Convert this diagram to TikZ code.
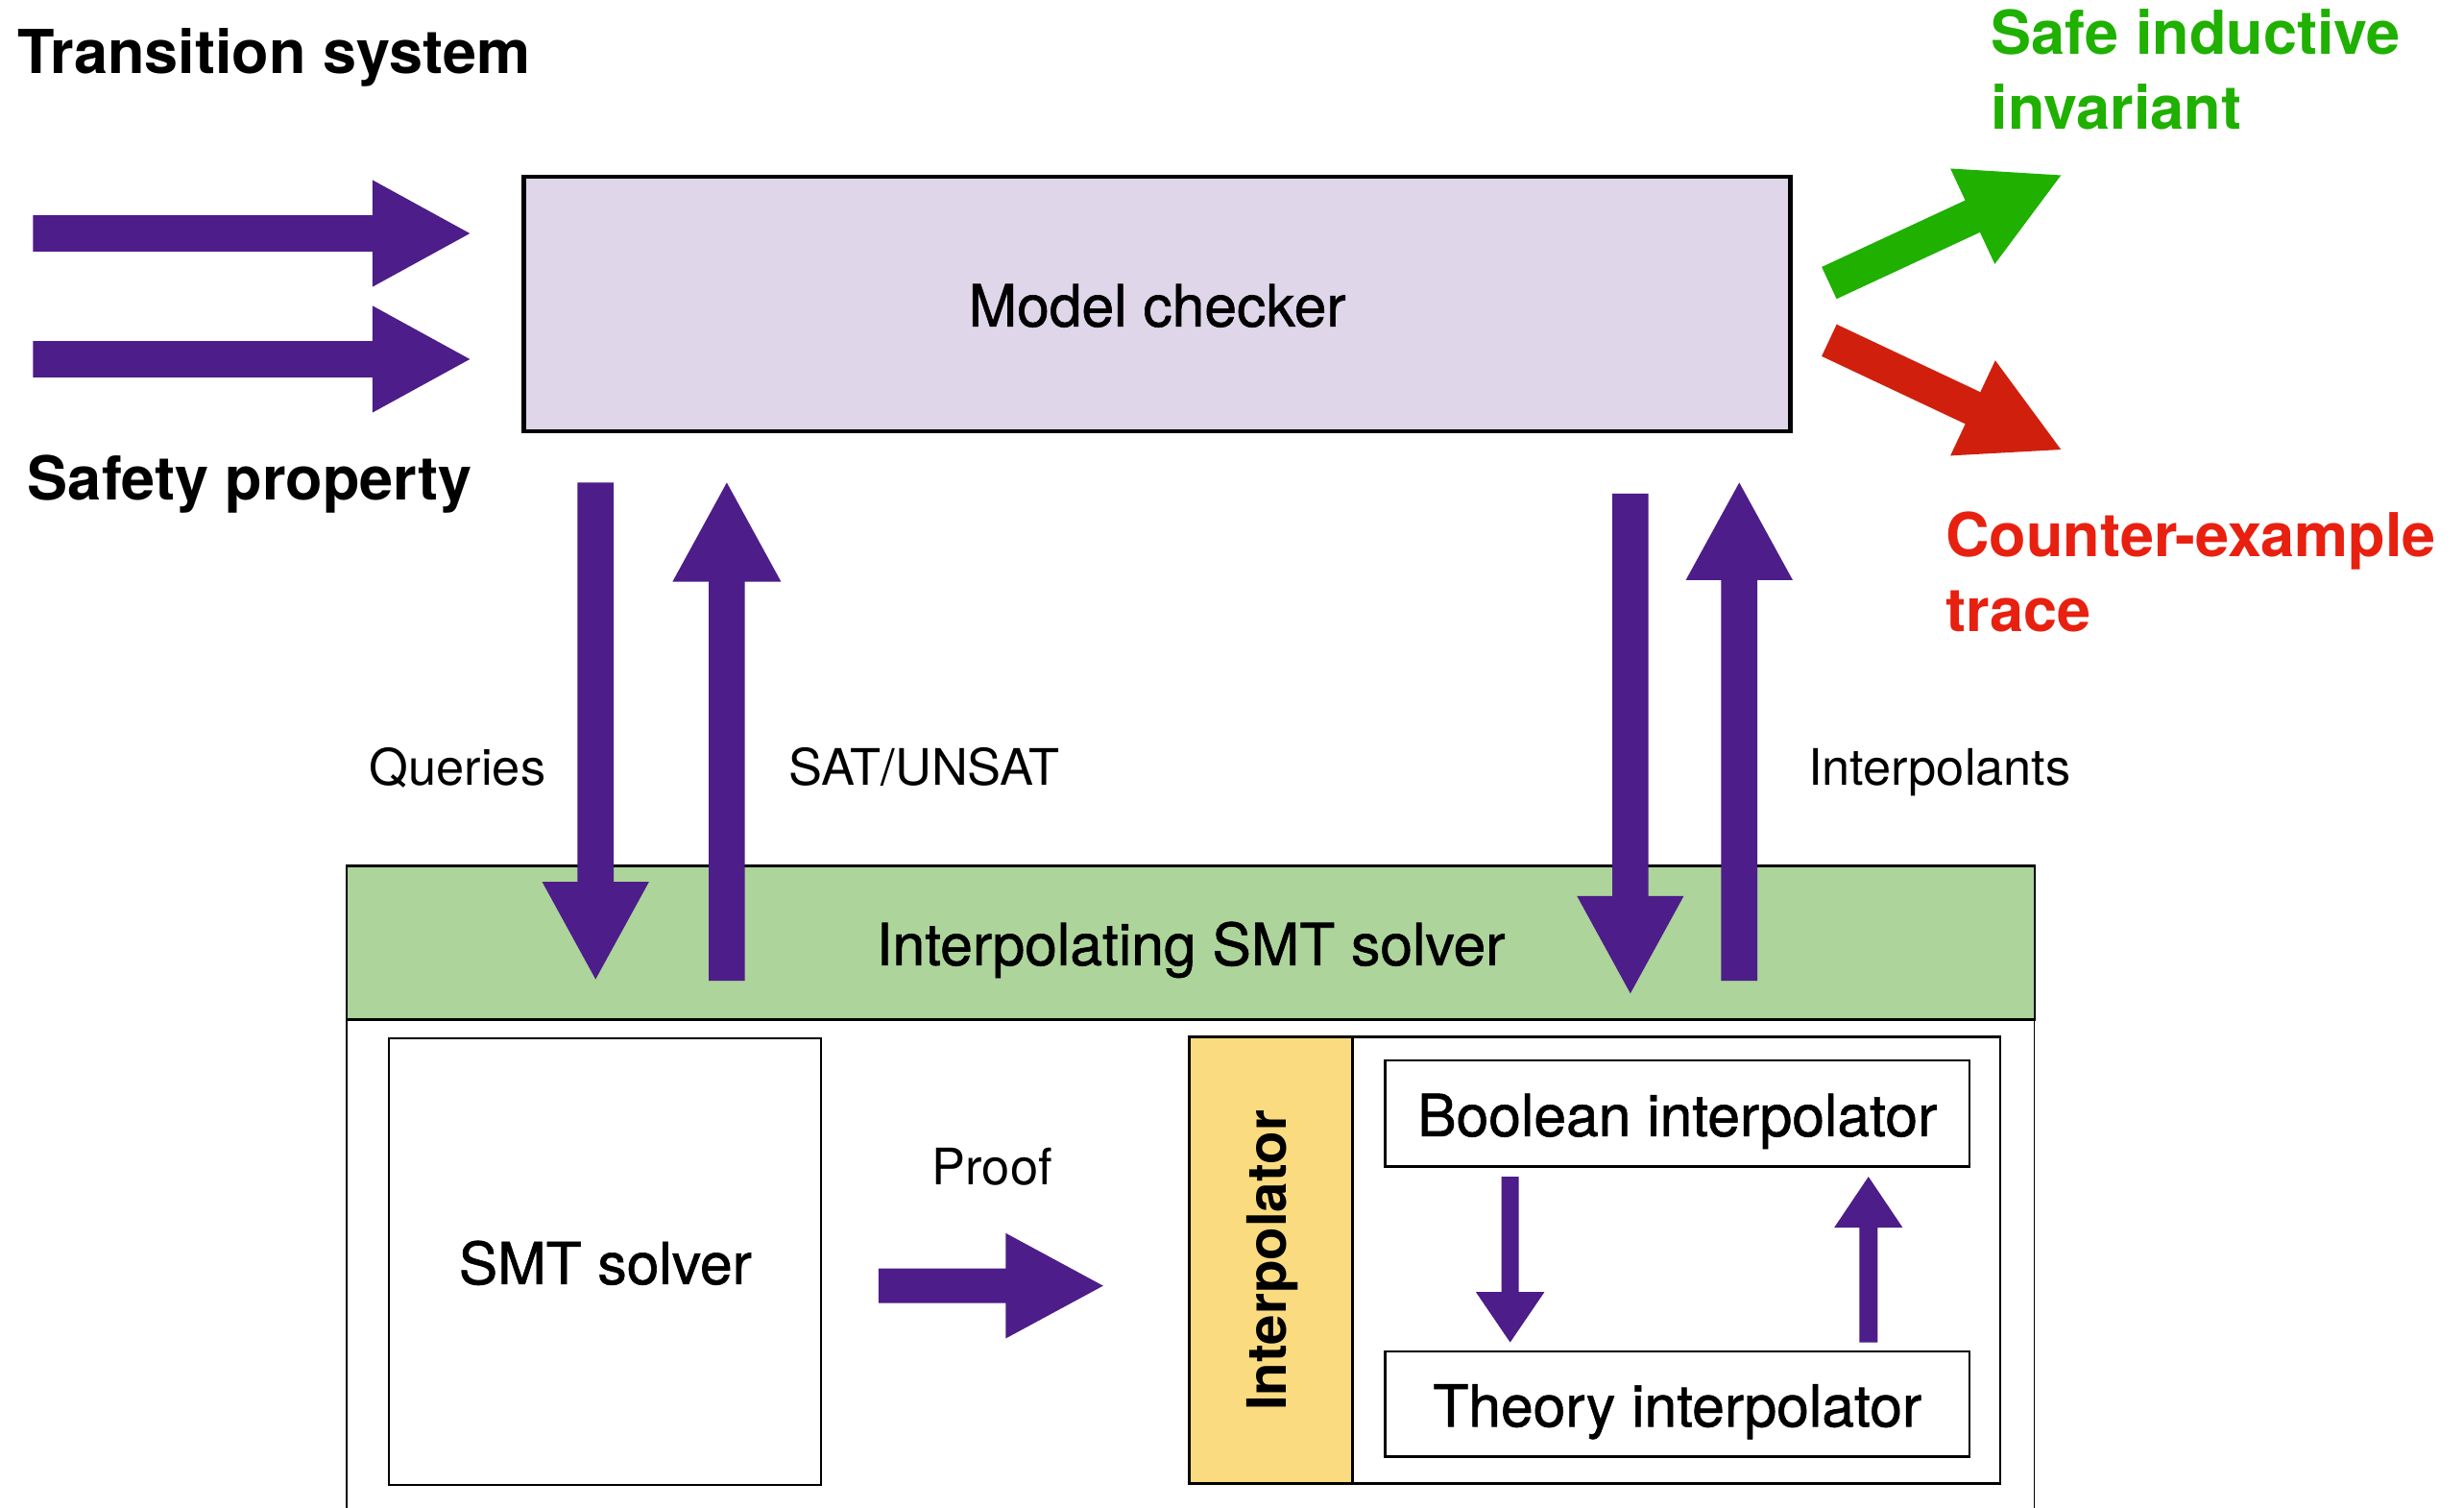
\documentclass[tikz,border=0pt]{standalone}
\usepackage{fontspec}
\setmainfont{TeX Gyre Heros}
\newfontfamily\medfont[FakeBold=1.0]{TeX Gyre Heros}
\usetikzlibrary{calc}
\definecolor{purp}{RGB}{77,29,137}
\definecolor{lav}{RGB}{223,214,233}
\definecolor{smtgreen}{RGB}{173,212,155}
\definecolor{ylw}{RGB}{250,219,128}
\definecolor{arrgreen}{RGB}{31,176,0}
\definecolor{arrred}{RGB}{208,32,13}
\definecolor{txtgreen}{RGB}{31,176,0}
\definecolor{txtred}{RGB}{232,32,16}
\newcommand\fatarrow[6]{%
  \coordinate (fah) at ($(#2)!#5!(#1)$);
  \fill[#6] ($(#1)!#3!90:(#2)$) -- ($(fah)!#3!-90:(#1)$) -- ($(fah)!#4!-90:(#1)$) -- (#2)
    -- ($(fah)!#4!90:(#1)$) -- ($(fah)!#3!90:(#1)$) -- ($(#1)!#3!-90:(#2)$) -- cycle;
}
\tikzset{
  bigbold/.style={inner sep=0pt, font=\fontsize{38.5}{47.5}\selectfont\bfseries},
  lbl/.style={inner sep=0pt, font=\fontsize{32}{38}\selectfont},
  boxtxt/.style={font=\fontsize{37}{44}\selectfont\medfont, text height=28.6pt, text depth=0pt},
  box/.style={draw=black, rectangle, inner sep=0pt, anchor=north west, boxtxt},
}
\begin{document}
\begin{tikzpicture}[x=1pt,y=-1pt]
\path[use as bounding box, clip] (0,0) rectangle (1568,959);
\fill[white] (0,0) rectangle (1568,959);

% boxes
\node[box, line width=1pt, minimum width=1074pt, minimum height=340pt] (outer) at (220,648) {};
\node[box, fill=smtgreen, line width=1.5pt, minimum width=1074pt, minimum height=98pt] (ism) at (220,550) {Interpolating SMT solver};
\node[box, fill=lav, line width=2.8pt, minimum width=806pt, minimum height=162pt] (mc) at (332,111) {Model checker};
\node[box, line width=1.3pt, minimum width=275pt, minimum height=284pt] (smt) at (247,660) {SMT solver};
\node[box, line width=1.5pt, minimum width=516pt, minimum height=284pt] (interp) at (756,659) {};
\node[box, fill=ylw, line width=1.5pt, minimum width=104pt, minimum height=284pt] (ylw) at (756,659) {};
\node[rotate=90, inner sep=0pt, font=\fontsize{34.5}{40}\selectfont\bfseries] (ylwtxt) at (810,802) {Interpolator};
\node[box, line width=1.5pt, minimum width=372pt, minimum height=67.5pt] (bool) at (880.6,674) {Boolean interpolator};
\node[box, line width=1.5pt, minimum width=372pt, minimum height=67pt] (theory) at (880.6,859) {Theory interpolator};

% texts
\node[bigbold, anchor=base west] (ts) at (11,47) {Transition system};
\node[bigbold, anchor=base west] (sp) at (17.5,318) {Safety property};
\node[bigbold, text=txtgreen, anchor=base west] (safe) at (1267,34.4)
  {\begin{tabular}[t]{@{}l@{}}Safe inductive\\invariant\end{tabular}};
\node[bigbold, text=txtred, anchor=base west] (cex) at (1238,354.3)
  {\begin{tabular}[t]{@{}l@{}}Counter-example\\trace\end{tabular}};
\node[lbl, anchor=base west] (q) at (235,499.5) {Queries};
\node[lbl, anchor=base west] (sat) at (502,499.5) {SAT/UNSAT};
\node[lbl, anchor=base west] (itp) at (1150.6,499.5) {Interpolants};
\node[lbl, anchor=base west] (prf) at (593,753.6) {Proof};

% arrow end points
\coordinate (in1a) at (21,148.5);   \coordinate (in1b) at (299,148.5);
\coordinate (in2a) at (21,228.5);   \coordinate (in2b) at (299,228.5);
\coordinate (qa) at (379,307);      \coordinate (qb) at (379,623);
\coordinate (sa) at (462.5,624);    \coordinate (sb) at (462.5,307);
\coordinate (ra) at (1037.5,314);   \coordinate (rb) at (1037.5,632);
\coordinate (ia) at (1106.8,624);   \coordinate (ib) at (1106.8,307);
\coordinate (ga) at (1164,180);     \coordinate (gb) at (1311.5,111.5);
\coordinate (xa) at (1164,216.5);   \coordinate (xb) at (1311.5,286);
\coordinate (pa) at (559,818);      \coordinate (pb) at (702,818);
\coordinate (da) at (961,748.6);    \coordinate (db) at (961,854);
\coordinate (ua) at (1189,854);     \coordinate (ub) at (1189,748.6);

\fatarrow{in1a}{in1b}{11.5pt}{34pt}{62pt}{purp}
\fatarrow{in2a}{in2b}{11.5pt}{34pt}{62pt}{purp}
\fatarrow{qa}{qb}{11.5pt}{34pt}{62pt}{purp}
\fatarrow{sa}{sb}{11.5pt}{34.5pt}{63pt}{purp}
\fatarrow{ra}{rb}{11.5pt}{34pt}{62pt}{purp}
\fatarrow{ia}{ib}{11.5pt}{34pt}{62pt}{purp}
\fatarrow{ga}{gb}{11.2pt}{33.5pt}{62pt}{arrgreen}
\fatarrow{xa}{xb}{11.2pt}{33.5pt}{62pt}{arrred}
\fatarrow{pa}{pb}{11pt}{33.5pt}{62pt}{purp}
\fatarrow{da}{db}{5.5pt}{21.8pt}{32pt}{purp}
\fatarrow{ua}{ub}{5.8pt}{21.8pt}{32.4pt}{purp}
\end{tikzpicture}
\end{document}
